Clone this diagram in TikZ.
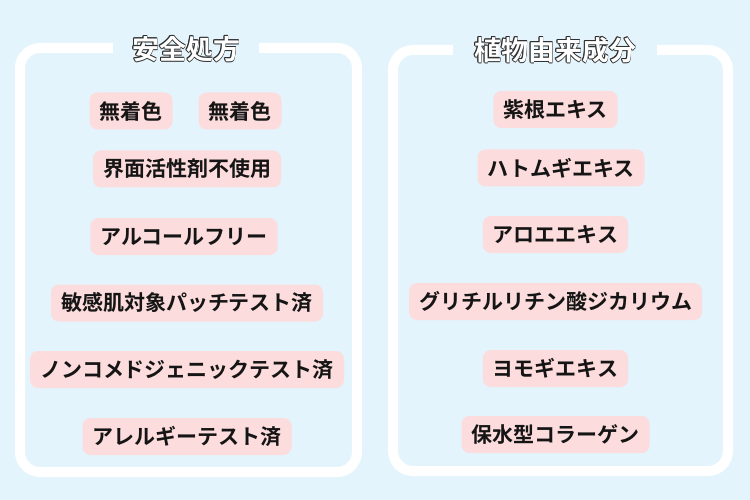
\documentclass[tikz,border=0pt]{standalone}
\usepackage{fontspec}
\setmainfont{Noto Sans CJK JP}[BoldFont={* Bold}]
\newfontfamily\jpb{Noto Sans CJK JP Bold}
\definecolor{bgc}{HTML}{E3F4FC}
\definecolor{pinkc}{HTML}{FCDCDC}
\definecolor{outl}{HTML}{2E2E2E}
\definecolor{txt}{HTML}{151515}
\newcommand\olcopy[3]{\rlap{\kern#1\raisebox{#2}{\color{outl}#3}}}
\newcommand\outlinedtext[1]{\leavevmode
  \olcopy{0.9pt}{0pt}{#1}\olcopy{-0.9pt}{0pt}{#1}%
  \olcopy{0pt}{0.9pt}{#1}\olcopy{0pt}{-0.9pt}{#1}%
  \olcopy{0.64pt}{0.64pt}{#1}\olcopy{-0.64pt}{0.64pt}{#1}%
  \olcopy{0.64pt}{-0.64pt}{#1}\olcopy{-0.64pt}{-0.64pt}{#1}%
  {\color{white}#1}}
\tikzset{
  pill/.style={fill=pinkc, rounded corners=8pt, inner xsep=10pt, inner ysep=0pt,
    minimum height=37pt, text=txt, font=\jpb\fontsize{21}{24}\selectfont},
  frame/.style={draw=white, line width=10pt, rounded corners=20pt},
  ttl/.style={font=\jpb\fontsize{27}{30}\selectfont, inner sep=0pt},
}
\begin{document}
\begin{tikzpicture}[x=1pt,y=-1pt]
\fill[bgc] (0,0) rectangle (750,500);
\useasboundingbox (0,0) rectangle (750,500);
% frames
\draw[frame] (20,48) rectangle (357,472);
\draw[frame] (393,50) rectangle (728,471);
\fill[bgc] (113,40) rectangle (259,58);
\fill[bgc] (453,42) rectangle (657,60);
\node[ttl] (t1) at (186,49) {\outlinedtext{安全処方}};
\node[ttl] (t2) at (555,50) {\outlinedtext{植物由来成分}};
% left column
\node[pill] (l1a) at (131,111) {無着色};
\node[pill] (l1b) at (240,111) {無着色};
\node[pill] (l2) at (187,169) {界面活性剤不使用};
\node[pill] (l3) at (184,236.5) {アルコールフリー};
\node[pill] (l4) at (187,303) {敏感肌対象パッチテスト済};
\node[pill] (l5) at (187,369.5) {ノンコメドジェニックテスト済};
\node[pill] (l6) at (187,436.5) {アレルギーテスト済};
% right column
\node[pill] (r1) at (555.5,109.5) {紫根エキス};
\node[pill] (r2) at (561,168) {ハトムギエキス};
\node[pill] (r3) at (555.5,234.5) {アロエエキス};
\node[pill] (r4) at (555.5,301.5) {グリチルリチン酸ジカリウム};
\node[pill] (r5) at (555.5,368.5) {ヨモギエキス};
\node[pill] (r6) at (555.5,434.5) {保水型コラーゲン};
\end{tikzpicture}
\end{document}
